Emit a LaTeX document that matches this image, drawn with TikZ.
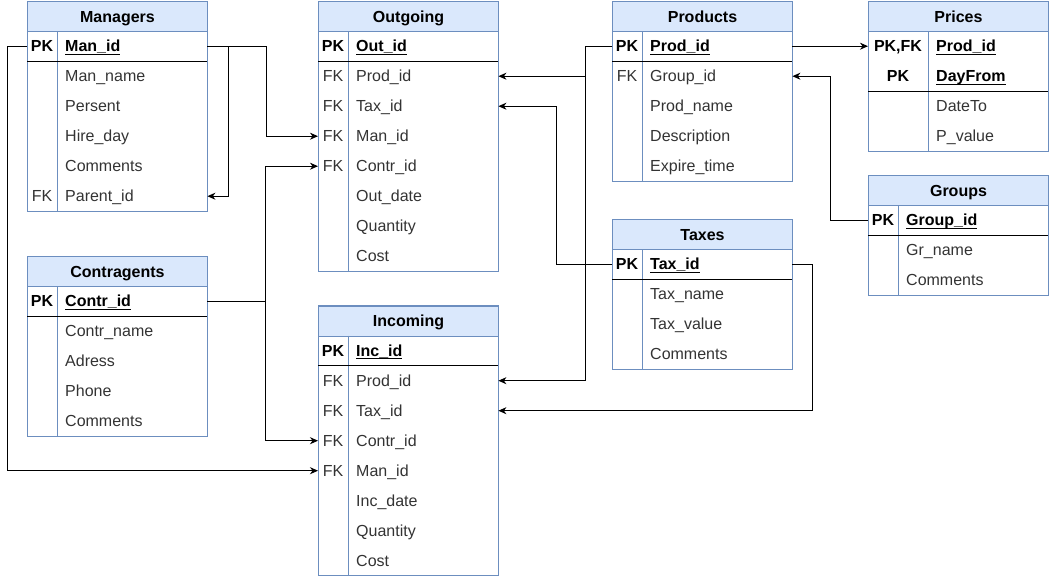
\documentclass[tikz,border=0pt]{standalone}
\usepackage{fontspec}
\setmainfont{Liberation Sans}
\usetikzlibrary{arrows.meta,calc}

\definecolor{headFill}{HTML}{DAE8FC}
\definecolor{headDraw}{HTML}{6C8EBF}
\definecolor{fieldGray}{HTML}{333333}

\def \tabW {180}
\def \rowH {30}

% underline just below the baseline
\newcommand{\keyUnder}[1]{\setbox0\hbox{#1}\rlap{\rule[-2.7pt]{\wd0}{1.1pt}}\box0}

% frame, header, key column and key line of a table
% #1 name, #2 x, #3 y, #4 title, #5 rows, #6 key column, #7 key rows
\newcommand{\erTable}[7]{%
  \draw[tabframe] (#2,#3) rectangle ++(\tabW,\rowH+\rowH*#5);
  \node[tabhead] (#1) at (#2,#3) {#4};
  \draw[tabframe] (#2+#6,#3+\rowH) -- ++(0,\rowH*#5);
  \draw[keyline] (#2,#3+\rowH+\rowH*#7) -- ++(\tabW,0);
}
% #1 name, #2 x, #3 y, #4 key column, #5 key, #6 field
\newcommand{\erKey}[6]{%
  \node[fieldrow] (#1) at (#2,#3) {};
  \node[keytext] (#1-key) at ($(#1.west)+(#4/2,0)$) {#5};
  \node[keytext,anchor=west] (#1-text) at ($(#1.west)+(#4+8,0)$) {\keyUnder{#6}};
}
\newcommand{\erField}[6]{%
  \node[fieldrow] (#1) at (#2,#3) {};
  \node[fieldtext] (#1-key) at ($(#1.west)+(#4/2,0)$) {#5};
  \node[fieldtext,anchor=west] (#1-text) at ($(#1.west)+(#4+8,0)$) {#6};
}

\begin{document}
\begin{tikzpicture}[x=1pt, y=-1pt,
  tabframe/.style={draw=headDraw, line width=1pt},
  keyline/.style={draw=black, line width=1pt},
  tabhead/.style={draw=headDraw, fill=headFill, line width=1pt, anchor=north west,
    minimum width=\tabW, minimum height=\rowH, inner sep=0pt,
    text height=11.5pt, text depth=0pt, font=\fontsize{16}{19}\selectfont\bfseries},
  fieldrow/.style={anchor=north west, minimum width=\tabW, minimum height=\rowH, inner sep=0pt},
  keytext/.style={inner sep=0pt, text height=11.5pt, text depth=0pt,
    font=\fontsize{16}{19}\selectfont\bfseries},
  fieldtext/.style={inner sep=0pt, text height=11.5pt, text depth=0pt, text=fieldGray,
    font=\fontsize{16}{19}\selectfont},
  fk/.style={draw, line width=1pt, -{Stealth[length=8pt,width=7pt,inset=2.5pt]}}]

\useasboundingbox (0,0) rectangle (1049,576);

% Managers
\erTable{managers}{27}{1}{Managers}{6}{30}{1}
\erKey{man-id}{27}{31}{30}{PK}{Man\_id}
\erField{man-name}{27}{61}{30}{}{Man\_name}
\erField{man-persent}{27}{91}{30}{}{Persent}
\erField{man-hire}{27}{121}{30}{}{Hire\_day}
\erField{man-comments}{27}{151}{30}{}{Comments}
\erField{man-parent}{27}{181}{30}{FK}{Parent\_id}

% Contragents
\erTable{contragents}{27}{256}{Contragents}{5}{30}{1}
\erKey{contr-id}{27}{286}{30}{PK}{Contr\_id}
\erField{contr-name}{27}{316}{30}{}{Contr\_name}
\erField{contr-adress}{27}{346}{30}{}{Adress}
\erField{contr-phone}{27}{376}{30}{}{Phone}
\erField{contr-comments}{27}{406}{30}{}{Comments}

% Outgoing
\erTable{outgoing}{318}{1}{Outgoing}{8}{30}{1}
\erKey{out-id}{318}{31}{30}{PK}{Out\_id}
\erField{out-prod}{318}{61}{30}{FK}{Prod\_id}
\erField{out-tax}{318}{91}{30}{FK}{Tax\_id}
\erField{out-man}{318}{121}{30}{FK}{Man\_id}
\erField{out-contr}{318}{151}{30}{FK}{Contr\_id}
\erField{out-date}{318}{181}{30}{}{Out\_date}
\erField{out-quantity}{318}{211}{30}{}{Quantity}
\erField{out-cost}{318}{241}{30}{}{Cost}

% Incoming
\erTable{incoming}{318}{305.5}{Incoming}{8}{30}{1}
\erKey{inc-id}{318}{335.5}{30}{PK}{Inc\_id}
\erField{inc-prod}{318}{365.5}{30}{FK}{Prod\_id}
\erField{inc-tax}{318}{395.5}{30}{FK}{Tax\_id}
\erField{inc-contr}{318}{425.5}{30}{FK}{Contr\_id}
\erField{inc-man}{318}{455.5}{30}{FK}{Man\_id}
\erField{inc-date}{318}{485.5}{30}{}{Inc\_date}
\erField{inc-quantity}{318}{515.5}{30}{}{Quantity}
\erField{inc-cost}{318}{545.5}{30}{}{Cost}

% Products
\erTable{products}{612}{1}{Products}{5}{30}{1}
\erKey{prod-id}{612}{31}{30}{PK}{Prod\_id}
\erField{prod-group}{612}{61}{30}{FK}{Group\_id}
\erField{prod-name}{612}{91}{30}{}{Prod\_name}
\erField{prod-descr}{612}{121}{30}{}{Description}
\erField{prod-expire}{612}{151}{30}{}{Expire\_time}

% Taxes
\erTable{taxes}{612}{219}{Taxes}{4}{30}{1}
\erKey{tax-id}{612}{249}{30}{PK}{Tax\_id}
\erField{tax-name}{612}{279}{30}{}{Tax\_name}
\erField{tax-value}{612}{309}{30}{}{Tax\_value}
\erField{tax-comments}{612}{339}{30}{}{Comments}

% Prices
\erTable{prices}{868}{1}{Prices}{4}{60}{2}
\erKey{price-prod}{868}{31}{60}{PK,FK}{Prod\_id}
\erKey{price-from}{868}{61}{60}{PK}{DayFrom}
\erField{price-to}{868}{91}{60}{}{DateTo}
\erField{price-value}{868}{121}{60}{}{P\_value}

% Groups
\erTable{groups}{868}{175}{Groups}{3}{30}{1}
\erKey{group-id}{868}{205}{30}{PK}{Group\_id}
\erField{group-name}{868}{235}{30}{}{Gr\_name}
\erField{group-comments}{868}{265}{30}{}{Comments}

% foreign keys
\draw[fk] (man-id.east) -- ++(59,0) |- (out-man.west);
\draw[fk] (man-id.east) -- ++(21,0) |- (man-parent.east);
\draw[fk] (man-id.west) -- ++(-20,0) |- (inc-man.west);
\draw[fk] (contr-id.east) -- ++(58,0) |- (out-contr.west);
\draw[fk] (contr-id.east) -- ++(58,0) |- (inc-contr.west);
\draw[fk] (prod-id.west) -- ++(-27,0) |- (out-prod.east);
\draw[fk] (prod-id.west) -- ++(-27,0) |- (inc-prod.east);
\draw[fk] (prod-id.east) -- (price-prod.west);
\draw[fk] (group-id.west) -- ++(-38,0) |- (prod-group.east);
\draw[fk] (tax-id.west) -- ++(-56,0) |- (out-tax.east);
\draw[fk] (tax-id.east) -- ++(20,0) |- (inc-tax.east);

\end{tikzpicture}
\end{document}
